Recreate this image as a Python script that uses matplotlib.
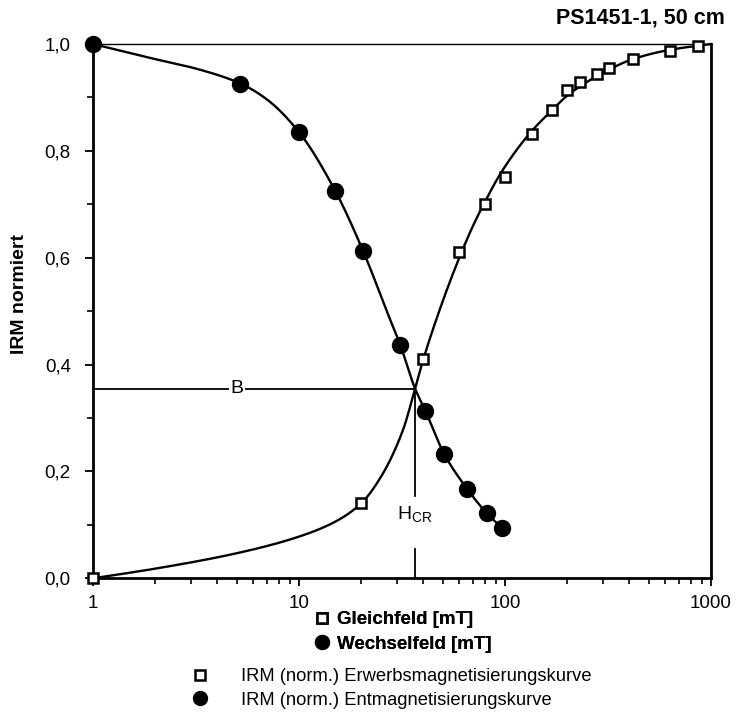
import matplotlib
matplotlib.use("Agg")
import matplotlib.pyplot as plt
from matplotlib.lines import Line2D
from matplotlib.ticker import FixedLocator, LogLocator, NullFormatter, MultipleLocator
import numpy as np

plt.rcParams['font.family'] = ['Liberation Sans', 'DejaVu Sans']
plt.rcParams['mathtext.fontset'] = 'custom'
plt.rcParams['mathtext.rm'] = 'Liberation Sans'

# IRM acquisition (Gleichfeld) - measured points
acq_x = [1, 20, 40, 60, 80, 100, 135, 170, 200, 230, 280, 320, 420, 630, 860]
acq_y = [0.0, 0.14, 0.41, 0.61, 0.70, 0.752, 0.832, 0.877, 0.913, 0.928, 0.943, 0.956, 0.971, 0.987, 0.997]

# IRM demagnetisation (Wechselfeld) - measured points
dem_x = [1, 5.2, 10, 15, 20.5, 31, 41, 50.6, 65.6, 81.5, 97]
dem_y = [1.0, 0.926, 0.835, 0.725, 0.612, 0.437, 0.314, 0.233, 0.167, 0.122, 0.094]

# fitted curves
acq_curve_x = [1, 2, 5, 10, 15, 20, 25, 32, 36.6, 40, 50, 60, 70, 80, 96, 132, 170, 200,
               280, 420, 630, 1000]
acq_curve_y = [0.0, 0.018, 0.047, 0.078, 0.106, 0.14, 0.19, 0.278, 0.355, 0.408, 0.52, 0.60,
               0.66, 0.705, 0.76, 0.833, 0.877, 0.903, 0.94, 0.972, 0.989, 1.0]
dem_curve_x = [1, 1.75, 3.3, 5.2, 7, 10, 15, 20.5, 27.7, 31, 36.6, 41, 50.6, 65.6, 81.5, 97]
dem_curve_y = [1.0, 0.977, 0.952, 0.926, 0.896, 0.835, 0.725, 0.612, 0.484, 0.437, 0.355, 0.314,
               0.233, 0.167, 0.122, 0.094]

# remanence coercivity crossing
hcr_x = 36.6
hcr_y = 0.355


def pchip(x, y, xn):
    # monotone cubic through the curve knots (log-x space)
    x = np.asarray(x, float)
    y = np.asarray(y, float)
    h = np.diff(x)
    d = np.diff(y) / h
    m = np.zeros_like(x)
    m[0], m[-1] = d[0], d[-1]
    for k in range(1, len(x) - 1):
        if d[k - 1] * d[k] > 0:
            w1 = 2 * h[k] + h[k - 1]
            w2 = h[k] + 2 * h[k - 1]
            m[k] = (w1 + w2) / (w1 / d[k - 1] + w2 / d[k])
    i = np.clip(np.searchsorted(x, xn) - 1, 0, len(x) - 2)
    t = (xn - x[i]) / h[i]
    h00 = 2 * t**3 - 3 * t**2 + 1
    h10 = t**3 - 2 * t**2 + t
    h01 = -2 * t**3 + 3 * t**2
    h11 = t**3 - t**2
    return h00 * y[i] + h10 * h[i] * m[i] + h01 * y[i + 1] + h11 * h[i] * m[i + 1]


def smooth(cx, cy):
    lx = np.log10(cx)
    ln = np.linspace(lx[0], lx[-1], 400)
    return 10**ln, pchip(lx, cy, ln)


fig = plt.figure(figsize=(7.38, 7.12), dpi=100)
ax = fig.add_axes([93 / 738, 1 - 578.3 / 712, (711 - 93) / 738, (578.3 - 44) / 712])

sx, sy = smooth(acq_curve_x, acq_curve_y)
ax.plot(sx, sy, color='black', lw=1.7, zorder=3, clip_on=False)
sx, sy = smooth(dem_curve_x, dem_curve_y)
ax.plot(sx, sy, color='black', lw=1.7, zorder=3, clip_on=False)

ax.plot(acq_x, acq_y, linestyle='none', marker='s', ms=7, mfc='white', mec='black', mew=1.8,
        zorder=5, clip_on=False)
ax.plot(dem_x, dem_y, linestyle='none', marker='o', ms=11.5, mfc='black', mec='black',
        zorder=5, clip_on=False)

# B line and H_CR marker
ax.plot([1, hcr_x], [hcr_y, hcr_y], color='black', lw=1.3, zorder=2)
ax.text(5, hcr_y, 'B', ha='center', va='center', fontsize=14,
        bbox=dict(facecolor='white', edgecolor='none', pad=1), zorder=4)
ax.plot([hcr_x, hcr_x], [hcr_y, 0.154], color='black', lw=1.3, zorder=2)
ax.plot([hcr_x, hcr_x], [0.054, 0.0], color='black', lw=1.3, zorder=2)
ax.text(hcr_x, 0.118, r'H$_{\mathrm{CR}}$', ha='center', va='center', fontsize=14)

ax.set_xscale('log')
ax.set_xlim(1, 1000)
ax.set_ylim(0, 1.0)

ax.xaxis.set_major_locator(FixedLocator([1, 10, 100, 1000]))
ax.xaxis.set_minor_locator(LogLocator(base=10, subs=np.arange(2, 10)))
ax.xaxis.set_minor_formatter(NullFormatter())
ax.set_xticklabels(['1', '10', '100', '1000'])
ax.yaxis.set_minor_locator(MultipleLocator(0.1))
ax.set_yticks([0, 0.2, 0.4, 0.6, 0.8, 1.0])
ax.set_yticklabels(['0,0', '0,2', '0,4', '0,6', '0,8', '1,0'])

ax.tick_params(which='major', direction='out', length=6, width=1.3, labelsize=13.5, pad=6)
ax.tick_params(axis='y', which='major', pad=10)
ax.tick_params(which='minor', direction='out', length=4, width=1.2)

for s in ['left', 'bottom', 'right']:
    ax.spines[s].set_linewidth(2.0)
ax.spines['top'].set_linewidth(1.0)

fig.text(20 / 738, 1 - 294 / 712, 'IRM normiert', rotation=90, ha='center', va='center',
         fontsize=14, fontweight='bold')
fig.text(725 / 738, 1 - 18 / 712, 'PS1451-1, 50 cm', ha='right', va='center',
         fontsize=15.5, fontweight='bold')

# axis legend (field types)
h_sq = Line2D([], [], linestyle='none', marker='s', ms=7, mfc='white', mec='black', mew=1.8)
h_ci = Line2D([], [], linestyle='none', marker='o', ms=10, mfc='black', mec='black')

leg1 = fig.legend([h_sq, h_ci], ['Gleichfeld [mT]', 'Wechselfeld [mT]'],
                  loc='upper left', bbox_to_anchor=(314 / 738, 1 - 611 / 712),
                  frameon=False, borderpad=0, borderaxespad=0, handlelength=0.8,
                  handletextpad=0.45, labelspacing=0.41,
                  prop={'size': 13.5, 'weight': 'bold'})
fig.add_artist(leg1)

leg2 = fig.legend([h_sq, h_ci], ['IRM (norm.) Erwerbsmagnetisierungskurve',
                                 'IRM (norm.) Entmagnetisierungskurve'],
                  loc='upper left', bbox_to_anchor=(191 / 738, 1 - 668 / 712),
                  frameon=False, borderpad=0, borderaxespad=0, handlelength=1.0,
                  handletextpad=1.72, labelspacing=0.37, prop={'size': 13.2})

fig.savefig('out.png', dpi=100)
